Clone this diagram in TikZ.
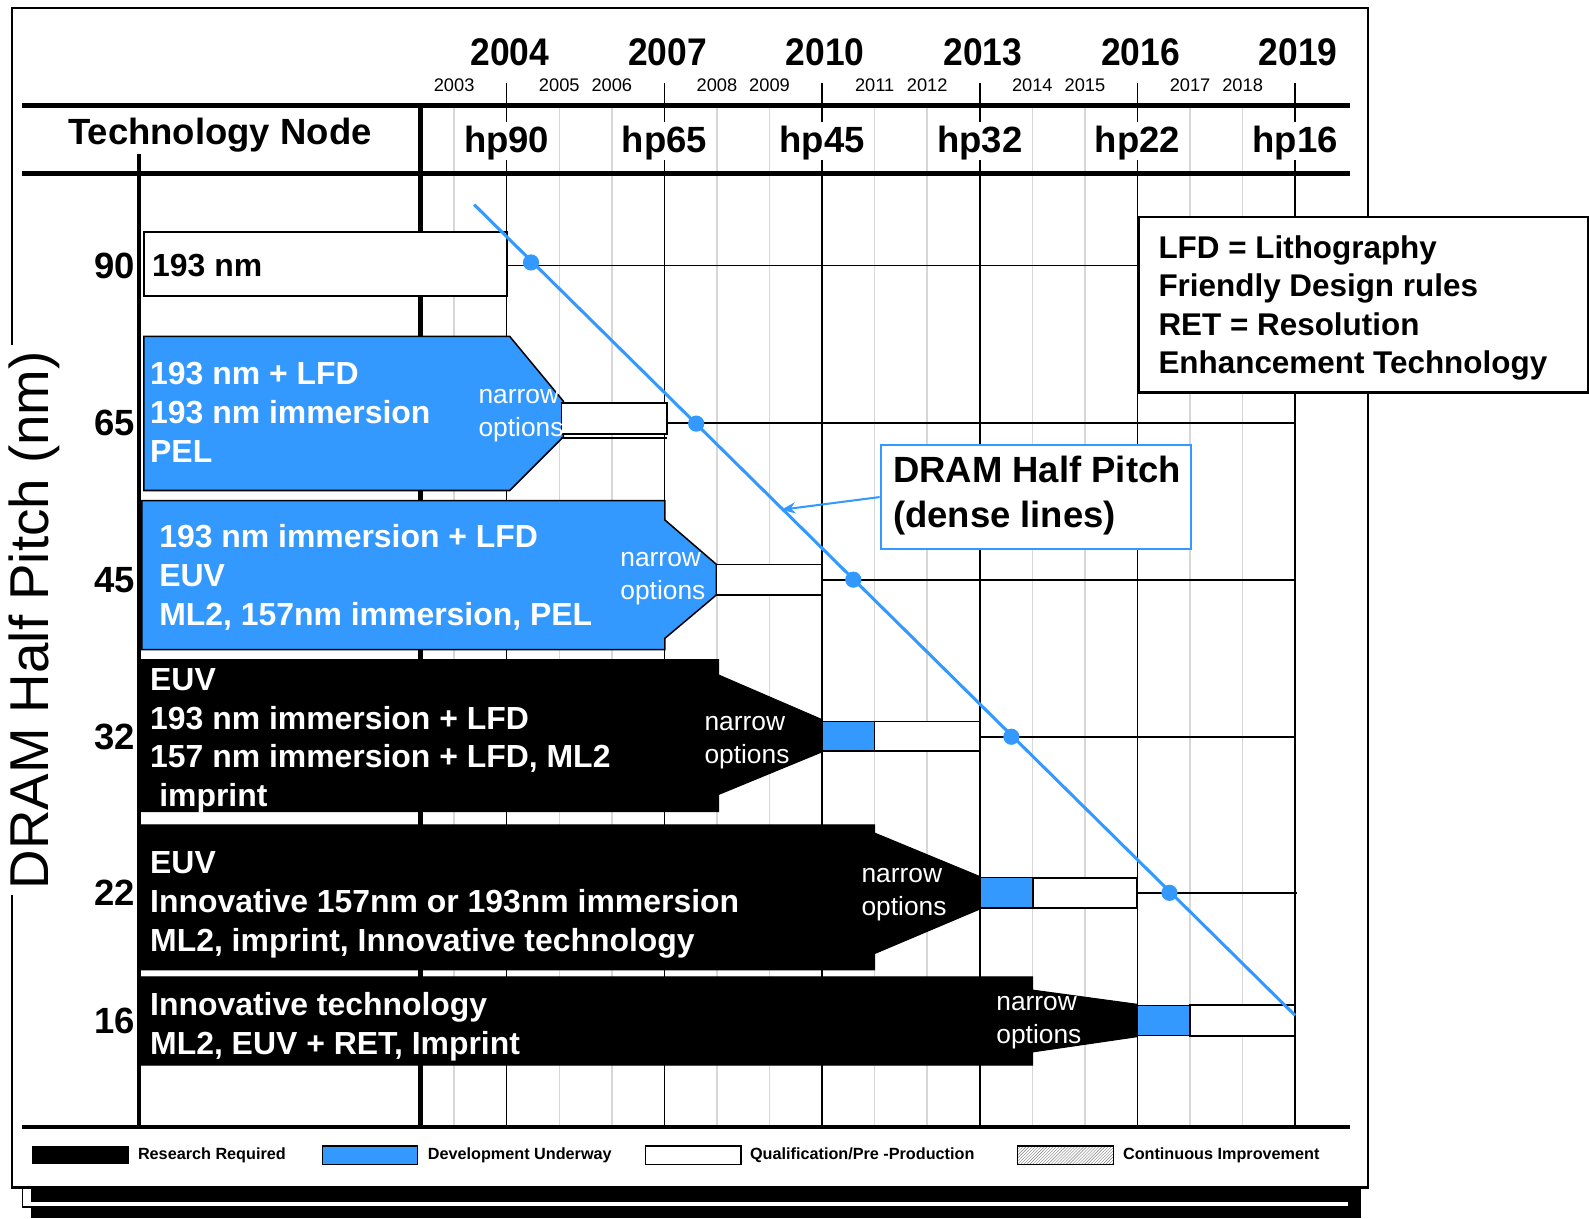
\documentclass[tikz,border=0pt]{standalone}
\usepackage{fontspec}
\setmainfont{Liberation Sans}
\usetikzlibrary{arrows.meta,patterns}
\definecolor{itrsblue}{RGB}{51,153,255}
\definecolor{gridgrey}{RGB}{215,215,215}
\begin{document}
\begin{tikzpicture}[x=1pt,y=-1pt,
  thinline/.style={line width=1.8pt},
  majorline/.style={line width=1.5pt},
  minorline/.style={line width=1.5pt, draw=gridgrey},
  thickline/.style={line width=4.5pt},
  bluebox/.style={fill=itrsblue, draw=black, line width=1.5pt},
  blackbox/.style={fill=black, draw=black, line width=1pt},
  qualbox/.style={fill=white, draw=black, line width=1.8pt},
  devbox/.style={fill=itrsblue, draw=black, line width=1.5pt},
  rowtxt/.style={anchor=west, inner sep=0pt, align=left, text=white, font=\fontsize{31.5}{38.3}\selectfont\bfseries},
  narrowtxt/.style={anchor=west, inner sep=0pt, align=left, text=white, font=\fontsize{26}{32}\selectfont},
  majyear/.style={inner sep=0pt, font=\fontsize{38}{38}\selectfont\bfseries},
  minyear/.style={inner sep=0pt, font=\fontsize{18}{18}\selectfont},
  hplabel/.style={inner sep=0pt, font=\fontsize{36}{36}\selectfont\bfseries},
  axisnum/.style={anchor=east, inner sep=0pt, font=\fontsize{36}{36}\selectfont\bfseries},
  legtxt/.style={anchor=west, inner sep=0pt, font=\fontsize{16}{16}\selectfont\bfseries},
  pitchline/.style={draw=itrsblue, line width=3pt},
  pitchdot/.style={fill=itrsblue},
]
\useasboundingbox (0,0) rectangle (1568,1202);

% page shadows
\fill[black] (31,1172) rectangle (1343,1202);
\draw[white, line width=3.5pt] (31,1188) -- (1330,1188);
\draw[line width=1.5pt] (22,1172) -- (22,1191) -- (31,1191);

% main frame
\draw[fill=white, line width=2.5pt] (12,8) rectangle (1350,1172);

% minor year grid lines
\foreach \yr in {2003,2005,2006,2008,2009,2011,2012,2014,2015,2017,2018} {
  \pgfmathsetmacro\xx{500+(\yr-2004)*51.87}
  \draw[minorline] (\xx,104) -- (\xx,1112);
  \node[minyear] (y\yr) at (\xx,84) {\yr};
}
% major year lines and labels
\foreach \yr/\hp in {2004/90,2007/65,2010/45,2013/32,2016/22,2019/16} {
  \pgfmathsetmacro\xx{500+(\yr-2004)*51.87}
  \draw[majorline] (\xx,82) -- (\xx,120);
  \draw[majorline] (\xx,158) -- (\xx,1112);
  \node[majyear] (y\yr) at (\xx+3,52) {\scalebox{0.92}[1]{\yr}};
  \node[hplabel] (hp\hp) at (\xx,141) {hp\hp};
}

% thick frame lines of the table
\draw[thickline] (22,104) -- (1332,104);
\draw[thickline] (22,171) -- (1332,171);
\draw[thickline] (22,1112) -- (1332,1112);
\draw[thickline] (415,104) -- (415,1112);
\draw[thickline] (137,152) -- (137,1112);

\node[hplabel] (technode) at (217,133) {Technology Node};

% row level lines
\draw[thinline] (500,262) -- (1122,262);
\draw[thinline] (658,417) -- (1278,417);
\draw[thinline] (811,572) -- (1278,572);
\draw[thinline] (967,727) -- (1278,727);
\draw[thinline] (1122,881) -- (1280,881);

% row 90
\draw[qualbox] (142,229) rectangle (500,292);
\node[rowtxt, text=black, anchor=west] (t90) at (150,262) {193 nm};

% row 65
\draw[bluebox] (142,332) -- (503,332) -- (556,396) -- (556,431) -- (503,484) -- (142,484) -- cycle;
\draw[qualbox] (554,398) rectangle (658,428);
\draw[thinline] (554,432) -- (658,432);
\node[rowtxt] (t65) at (148,407) {193 nm + LFD\\193 nm immersion\\PEL};
\node[narrowtxt] (n65) at (472,410) {narrow\\options};

% row 45
\draw[bluebox] (140,494) -- (656,494) -- (656,513) -- (707,557) -- (707,587) -- (656,630) -- (656,641) -- (140,641) -- cycle;
\draw[qualbox] (707,557) rectangle (811,587);
\node[rowtxt] (t45) at (157,570) {193 nm immersion + LFD\\EUV\\ML2, 157nm immersion, PEL};
\node[narrowtxt] (n45) at (612,571) {narrow\\options};

% row 32
\draw[blackbox] (137,651) -- (709,651) -- (709,666) -- (811,710) -- (811,742) -- (709,784) -- (709,801) -- (137,801) -- cycle;
\draw[devbox] (811,712) rectangle (863,741);
\draw[qualbox] (863,712) rectangle (967,741);
\node[rowtxt] (t32) at (148,731) {EUV\\193 nm immersion + LFD\\157 nm immersion + LFD, ML2\\\hspace*{9pt}imprint};
\node[narrowtxt] (n32) at (695,733) {narrow\\options};

% row 22
\draw[blackbox] (137,814) -- (863,814) -- (863,822) -- (967,865) -- (967,897) -- (863,941) -- (863,957) -- (137,957) -- cycle;
\draw[devbox] (967,866) rectangle (1019,896);
\draw[qualbox] (1019,866) rectangle (1122,896);
\node[rowtxt] (t22) at (148,893) {EUV\\Innovative 157nm or 193nm immersion\\ML2, imprint, Innovative technology};
\node[narrowtxt] (n22) at (850,883) {narrow\\options};

% row 16
\draw[blackbox] (137,964) -- (1019,964) -- (1019,977) -- (1122,991) -- (1122,1023) -- (1019,1038) -- (1019,1051) -- (137,1051) -- cycle;
\draw[devbox] (1122,992) rectangle (1174,1022);
\draw[qualbox] (1174,992) rectangle (1278,1022);
\node[rowtxt] (t16) at (148,1013) {Innovative technology\\ML2, EUV + RET, Imprint};
\node[narrowtxt] (n16) at (983,1009) {narrow\\options};

% axis numbers
\node[axisnum] (a90) at (133,262) {90};
\node[axisnum] (a65) at (133,417) {65};
\node[axisnum] (a45) at (133,572) {45};
\node[axisnum] (a32) at (133,727) {32};
\node[axisnum] (a22) at (133,881) {22};
\node[axisnum] (a16) at (133,1007) {16};

% axis title
\node[rotate=90, fill=white, inner sep=6pt, font=\fontsize{54}{54}\selectfont] (ytitle) at (34,612) {DRAM Half Pitch (nm)};

% DRAM half pitch trend line
\draw[pitchline] (468,202) -- (1278,1002);
\foreach \px/\py [count=\i] in {524/259,687/418,842/572,998/727,1154/881} {
  \fill[pitchdot] (\px,\py) circle (8);
}

% abbreviations box
\node[draw=black, fill=white, line width=2.5pt, anchor=north west, minimum width=444pt, minimum height=173pt, inner sep=0pt] (abbr) at (1122,213) {};
\node[anchor=west, inner sep=0pt, align=left, font=\fontsize{31}{38}\selectfont\bfseries] (abbrtxt) at (1143,304) {LFD = Lithography\\Friendly Design rules\\RET = Resolution\\Enhancement Technology};

% DRAM half pitch callout
\node[draw=itrsblue, fill=white, line width=2pt, anchor=north west, minimum width=306pt, minimum height=103pt, inner sep=0pt] (dram) at (868,438) {};
\node[anchor=west, inner sep=0pt, align=left, font=\fontsize{36}{44}\selectfont\bfseries] (dramtxt) at (881,489) {DRAM Half Pitch\\(dense lines)};
\coordinate (ap) at (771,503);
\draw[draw=itrsblue, line width=2pt, -{Stealth[length=14pt, width=11pt]}] (dram.west) -- (ap);

% legend
\fill[black] (32,1131) rectangle (127,1149);
\node[legtxt] (lg1) at (136,1140) {Research Required};
\draw[devbox] (318,1131) rectangle (412,1149);
\node[legtxt] (lg2) at (422,1140) {Development Underway};
\draw[qualbox, line width=1.5pt] (637,1131) rectangle (731,1149);
\node[legtxt] (lg3) at (740,1140) {Qualification/Pre -Production};
\draw[pattern=north east lines, pattern color=gray, line width=1.5pt] (1004,1131) rectangle (1099,1149);
\node[legtxt] (lg4) at (1108,1140) {Continuous Improvement};
\end{tikzpicture}
\end{document}
